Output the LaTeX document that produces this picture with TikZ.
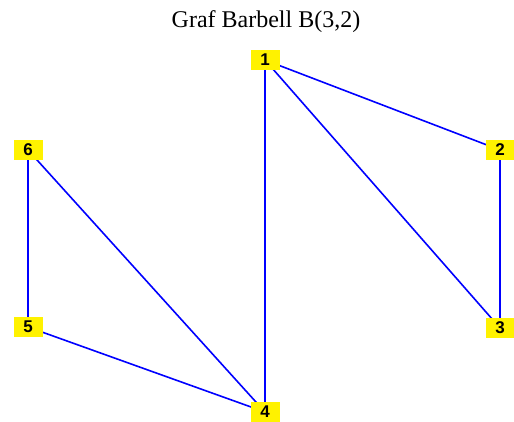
\documentclass[tikz,border=0pt]{standalone}
\usepackage{fontspec}
\setmainfont{Liberation Serif}
\newfontfamily\lblfont{Liberation Sans}
\pgfdeclarelayer{bg}
\pgfsetlayers{bg,main}
\begin{document}
\begin{tikzpicture}[x=1pt,y=-1pt,
  vtx/.style={fill=yellow, minimum width=29pt, minimum height=20pt, inner sep=0pt, font=\lblfont\bfseries\fontsize{17}{17}\selectfont},
  edge/.style={draw=blue, line width=1.6pt}]
\useasboundingbox (0,0) rectangle (514,421);
\node (title) at (266,22) {\fontsize{24}{24}\selectfont Graf Barbell B(3,2)};
\node[vtx] (n1) at (265,60) {1};
\node[vtx] (n2) at (500,150) {2};
\node[vtx] (n3) at (500,328) {3};
\node[vtx] (n4) at (265,412) {4};
\node[vtx] (n5) at (28,327) {5};
\node[vtx] (n6) at (28,150) {6};
\begin{pgfonlayer}{bg}
\draw[edge] (n1.center) -- (n2.center);
\draw[edge] (n1.center) -- (n3.center);
\draw[edge] (n1.center) -- (n4.center);
\draw[edge] (n2.center) -- (n3.center);
\draw[edge] (n4.center) -- (n5.center);
\draw[edge] (n4.center) -- (n6.center);
\draw[edge] (n5.center) -- (n6.center);
\end{pgfonlayer}
\end{tikzpicture}
\end{document}
